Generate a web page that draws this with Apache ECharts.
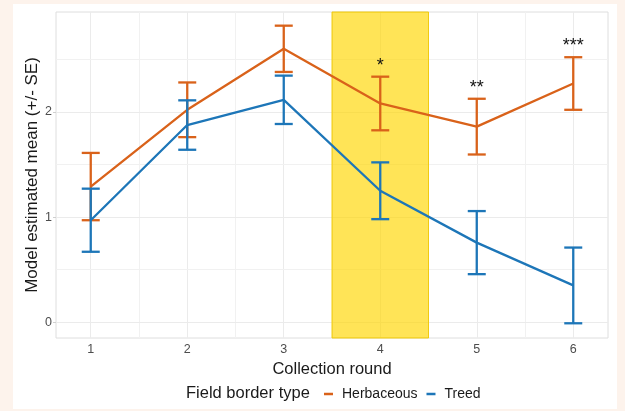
<!DOCTYPE html>
<html><head><meta charset="utf-8">
<script src="https://cdn.jsdelivr.net/npm/echarts@6/dist/echarts.min.js"></script>
<style>html,body{margin:0;padding:0;background:#fdf3ec;}#c{width:625px;height:411px;}</style>
</head><body><div id="c"></div>
<script>
// ---- data ----
const rounds = [1, 2, 3, 4, 5, 6];
const herbMean = [1.29, 2.02, 2.60, 2.08, 1.86, 2.27];
const herbSE = [0.32, 0.26, 0.22, 0.255, 0.265, 0.25];
const treedMean = [0.97, 1.875, 2.115, 1.25, 0.757, 0.35];
const treedSE = [0.30, 0.235, 0.23, 0.27, 0.30, 0.36];
const sigLabels = ['', '', '', '*', '**', '***'];
const xTicks = [1, 2, 3, 4, 5, 6];
const yTicks = [0, 1, 2];
const xMinor = [1.5, 2.5, 3.5, 4.5, 5.5];
const yMinor = [0.5, 1.5, 2.5];
const highlight = [3.5, 4.5];
const xRange = [0.64, 6.36];
const yRange = [-0.15, 2.95];
const seriesNames = ['Herbaceous', 'Treed'];
const xTitle = 'Collection round';
const yTitle = 'Model estimated mean (+/- SE)';
const legendTitle = 'Field border type';

const ORANGE = '#d9621a', BLUE = '#1d76b8';
const FONT = '"Liberation Sans", Arial, sans-serif';

const chart = echarts.init(document.getElementById('c'), null, {renderer: 'canvas'});

function errRender(params, api) {
  const x = api.value(0), m = api.value(1), se = api.value(2);
  const top = api.coord([x, m + se]), bot = api.coord([x, m - se]);
  const hw = 9;
  const style = {stroke: api.visual('color'), lineWidth: 2.3, fill: null};
  return {type: 'group', children: [
    {type: 'line', shape: {x1: top[0], y1: top[1], x2: bot[0], y2: bot[1]}, style},
    {type: 'line', shape: {x1: top[0] - hw, y1: top[1], x2: top[0] + hw, y2: top[1]}, style},
    {type: 'line', shape: {x1: bot[0] - hw, y1: bot[1], x2: bot[0] + hw, y2: bot[1]}, style}
  ]};
}
function starRender(params, api) {
  const x = api.value(0), y = api.value(1);
  const p = api.coord([x, y]);
  return {type: 'text', x: p[0], y: p[1] - 2, style: {
    text: sigLabels[params.dataIndex], fontSize: 18, fontFamily: FONT, fill: '#111',
    align: 'center', verticalAlign: 'bottom'}};
}

const gridLines = [];
xTicks.forEach(v => gridLines.push({xAxis: v, lineStyle: {color: '#ebebeb', width: 1, type: 'solid'}}));
xMinor.forEach(v => gridLines.push({xAxis: v, lineStyle: {color: '#f1f1f1', width: 1, type: 'solid'}}));
yTicks.forEach(v => gridLines.push({yAxis: v, lineStyle: {color: '#ebebeb', width: 1, type: 'solid'}}));
yMinor.forEach(v => gridLines.push({yAxis: v, lineStyle: {color: '#f1f1f1', width: 1, type: 'solid'}}));

const option = {
  animation: false,
  textStyle: {fontFamily: FONT},
  graphic: [
    {type: 'rect', z: -10, shape: {x: 13, y: 4, width: 604, height: 405}, style: {fill: '#ffffff'}},
    {type: 'text', x: 186, y: 393, style: {text: legendTitle, fontSize: 16.5, fontFamily: FONT, fill: '#1a1a1a', verticalAlign: 'middle'}}
  ],
  grid: {left: 56, right: 17, top: 12, bottom: 73, show: true, borderColor: '#dedede', borderWidth: 1, backgroundColor: 'transparent'},
  legend: {
    data: seriesNames, left: 319, top: 382, icon: 'rect', itemWidth: 9, itemHeight: 2.5, itemGap: 9,
    textStyle: {fontSize: 14, color: '#1a1a1a', fontFamily: FONT, padding: [0, 0, 0, 4]}
  },
  xAxis: {
    type: 'value', min: xRange[0], max: xRange[1],
    name: xTitle, nameLocation: 'middle', nameGap: 18,
    nameTextStyle: {fontSize: 16.5, color: '#1a1a1a', fontFamily: FONT},
    axisLine: {show: false},
    axisTick: {show: true, customValues: xTicks, length: 3, lineStyle: {color: '#cfcfcf'}},
    axisLabel: {customValues: xTicks, fontSize: 12.5, color: '#4d4d4d', margin: 5},
    splitLine: {show: false}
  },
  yAxis: {
    type: 'value', min: yRange[0], max: yRange[1],
    name: yTitle, nameLocation: 'middle', nameGap: 15, nameMoveOverlap: false,
    nameTextStyle: {fontSize: 17, color: '#1a1a1a', fontFamily: FONT},
    axisLine: {show: false},
    axisTick: {show: true, customValues: yTicks, length: 3, lineStyle: {color: '#cfcfcf'}},
    axisLabel: {customValues: yTicks, fontSize: 12.5, color: '#4d4d4d', margin: 4},
    splitLine: {show: false}
  },
  series: [
    {type: 'line', name: '_grid', z: 1, silent: true, data: [],
      markLine: {z: 1, silent: true, symbol: 'none', label: {show: false}, data: gridLines, animation: false}},
    {type: 'line', name: '_band', z: 2, silent: true, data: [],
      markArea: {z: 2, silent: true, itemStyle: {color: 'rgba(255,214,0,0.66)', borderColor: 'rgba(240,200,0,0.9)', borderWidth: 1},
        data: [[{xAxis: highlight[0]}, {xAxis: highlight[1]}]]}},
    {type: 'line', name: seriesNames[0], z: 3, color: ORANGE, symbol: 'none', lineStyle: {width: 2.3, color: ORANGE},
      data: rounds.map((r, i) => [r, herbMean[i]])},
    {type: 'custom', name: seriesNames[0], z: 3, itemStyle: {color: ORANGE}, renderItem: errRender,
      encode: {x: 0, y: 1}, data: rounds.map((r, i) => [r, herbMean[i], herbSE[i]])},
    {type: 'line', name: seriesNames[1], z: 4, color: BLUE, symbol: 'none', lineStyle: {width: 2.3, color: BLUE},
      data: rounds.map((r, i) => [r, treedMean[i]])},
    {type: 'custom', name: seriesNames[1], z: 4, itemStyle: {color: BLUE}, renderItem: errRender,
      encode: {x: 0, y: 1}, data: rounds.map((r, i) => [r, treedMean[i], treedSE[i]])},
    {type: 'custom', name: '_sig', z: 5, silent: true, renderItem: starRender,
      encode: {x: 0, y: 1}, data: rounds.map((r, i) => [r, herbMean[i] + herbSE[i]])}
  ]
};
chart.setOption(option);
</script></body></html>
